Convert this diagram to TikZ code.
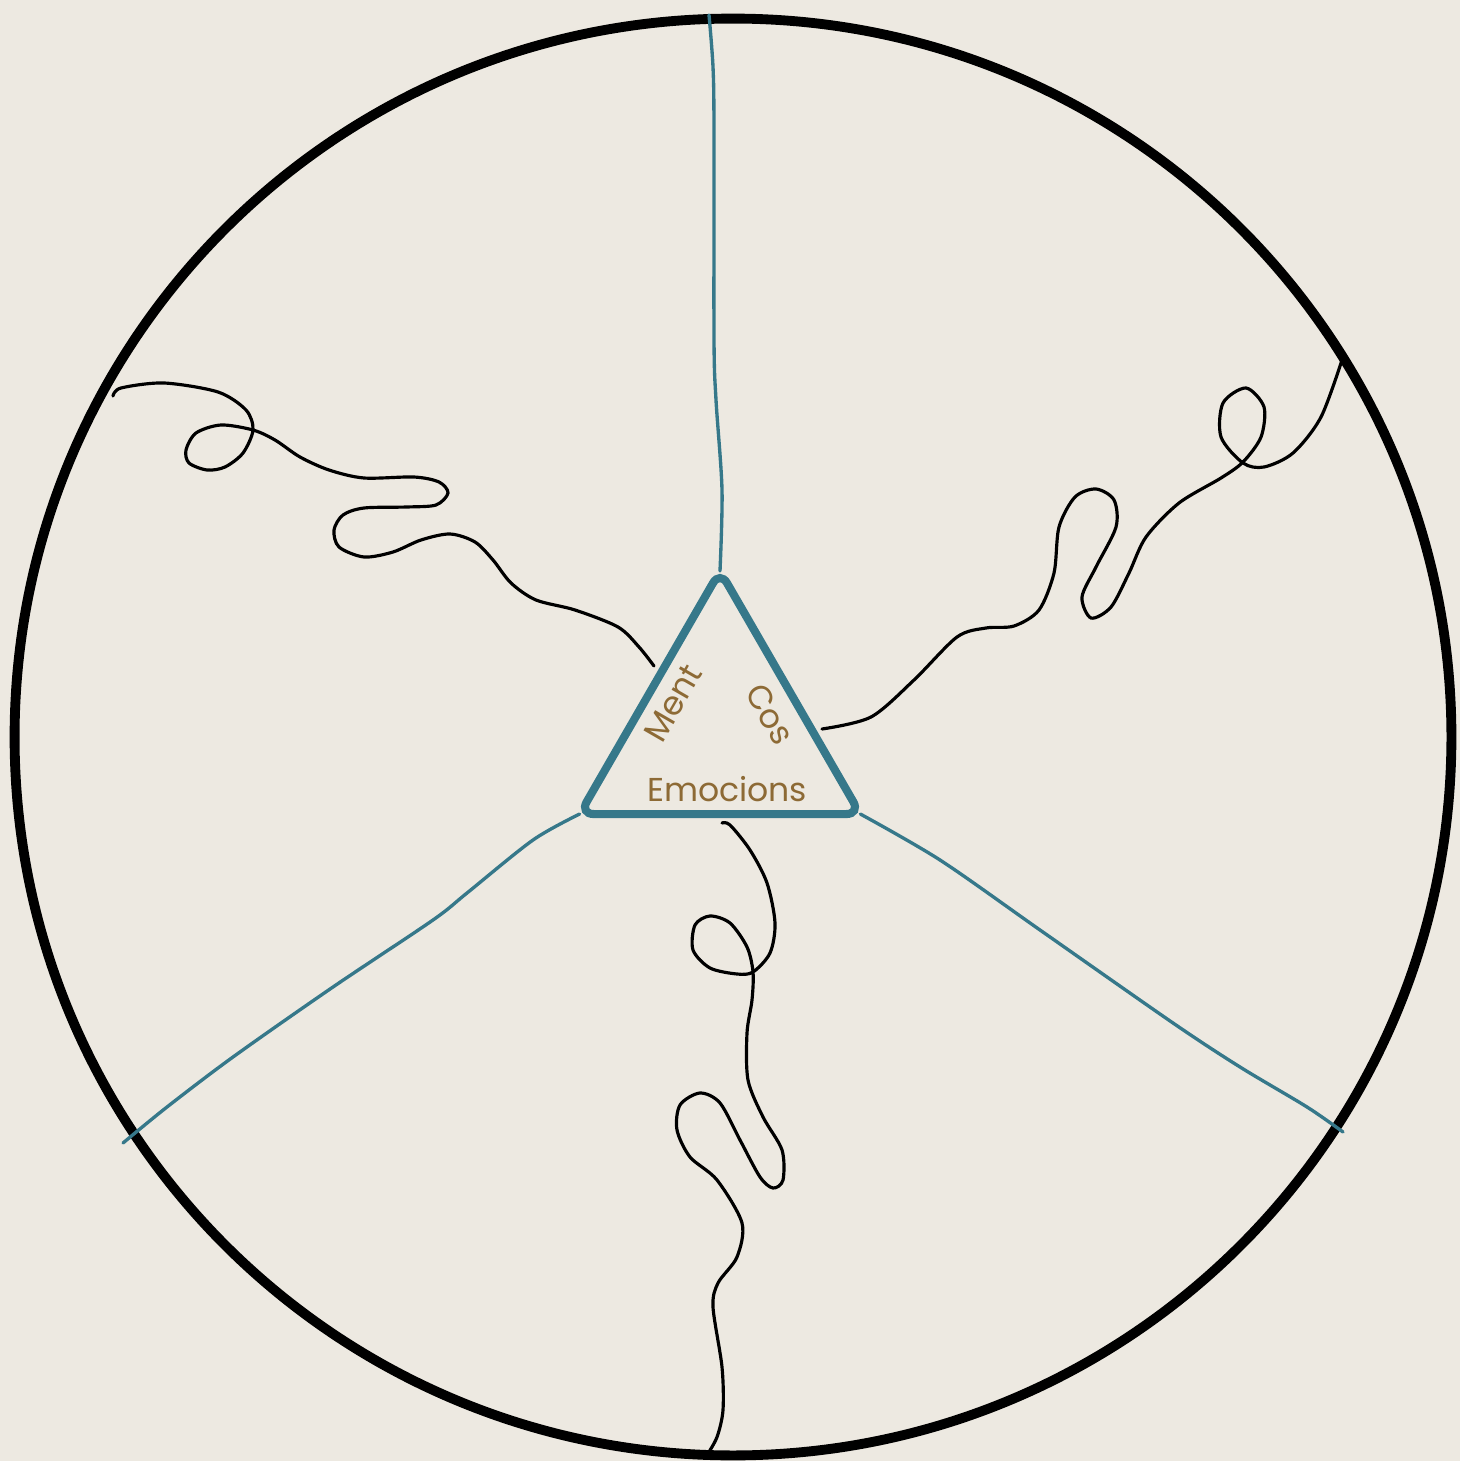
\documentclass[tikz,border=0pt]{standalone}
\usepackage{fontspec}
\newfontfamily\facetfont{Poppins}
\usetikzlibrary{shapes.geometric}
\definecolor{paper}{HTML}{EDE9E1}
\definecolor{tealline}{HTML}{36788A}
\definecolor{ochre}{HTML}{8D6A35}

\begin{document}
\begin{tikzpicture}[x=0.01cm, y=-0.01cm,
        rim/.style={draw, circle, line width=2.8pt, minimum size=14.36cm, inner sep=0pt},
        core/.style={draw=tealline, regular polygon, regular polygon sides=3, minimum size=3.24cm, line width=2.3pt, rounded corners=4pt, inner sep=0pt, outer sep=0pt},
        facet/.style={text=ochre, inner sep=0pt, font=\facetfont\fontsize{9.4}{11}\selectfont},
        spoke/.style={tealline, line width=0.95pt, line cap=round},
        wire/.style={line width=0.9pt, line cap=round}
    ]
        \fill[paper] (0,0) rectangle (1460,1461);
        \useasboundingbox (0,0) rectangle (1460,1461);

        \node[rim] (rim) at (733,737) {};
        \node[core] (core) at (720,733) {};

        \node[facet, rotate=60] (ment) at (673,703) {Ment};
        \node[facet, rotate=-60] (cos) at (770,714) {Cos};
        \node[facet] (emo) at (727,789) {Emocions};

        \coordinate (topend) at (709,15);
        \coordinate (leftend) at (123,1143);
        \coordinate (rightend) at (1343,1132);

        \draw[spoke] plot[smooth] coordinates {(core.corner 1) (722,490) (716,400) (714,340) (714,130) (713,67) (topend)};
        \draw[spoke] plot[smooth] coordinates {(core.corner 2) (533,840) (467,893) (433,920) (333,987) (233,1057) (167,1107) (leftend)};
        \draw[spoke] plot[smooth] coordinates {(core.corner 3) (940,860) (1040,930) (1173,1023) (1240,1067) (1307,1107) (rightend)};

        \coordinate (w1a) at (113,396);
        \coordinate (w1b) at (654,666);
        \coordinate (w2a) at (822,729);
        \coordinate (w2b) at (1343,357);
        \coordinate (w3a) at (722,823);
        \coordinate (w3b) at (707,1455);

        \draw[wire] plot[smooth] coordinates {(w1a) (121,388) (164,383) (218,392) (246,410) (253,430) (243,453) (225,467) (207,470) (189,463) (186,450) (196,433) (221,425) (253,430) (275,440) (300,457) (329,470) (364,478) (414,477) (439,482) (448,493) (436,505) (407,507) (364,508) (343,515) (334,530) (339,547) (364,557) (393,552) (421,540) (450,534) (475,542) (493,560) (511,583) (536,600) (575,610) (618,627) (639,647) (w1b)};
        \draw[wire] plot[smooth] coordinates {(w2a) (871,717) (914,680) (957,637) (986,628) (1014,626) (1039,610) (1054,573) (1059,527) (1075,497) (1096,489) (1114,500) (1116,527) (1096,567) (1082,597) (1091,618) (1111,607) (1129,573) (1146,537) (1179,503) (1221,478) (1243,462) (1261,437) (1264,407) (1246,388) (1223,403) (1221,437) (1243,463) (1264,467) (1293,453) (1321,417) (w2b)};
        \draw[wire] plot[smooth] coordinates {(w3a) (730,825) (750,850) (767,883) (775,923) (770,953) (753,972) (737,974) (710,968) (693,950) (695,925) (710,916) (730,923) (747,947) (753,972) (752,1000) (747,1033) (748,1080) (763,1117) (782,1150) (783,1180) (773,1188) (760,1177) (740,1140) (720,1103) (700,1093) (680,1105) (677,1130) (690,1157) (717,1180) (742,1223) (737,1257) (718,1283) (713,1307) (722,1367) (723,1410) (717,1437) (w3b)};
    \end{tikzpicture}
\end{document}
